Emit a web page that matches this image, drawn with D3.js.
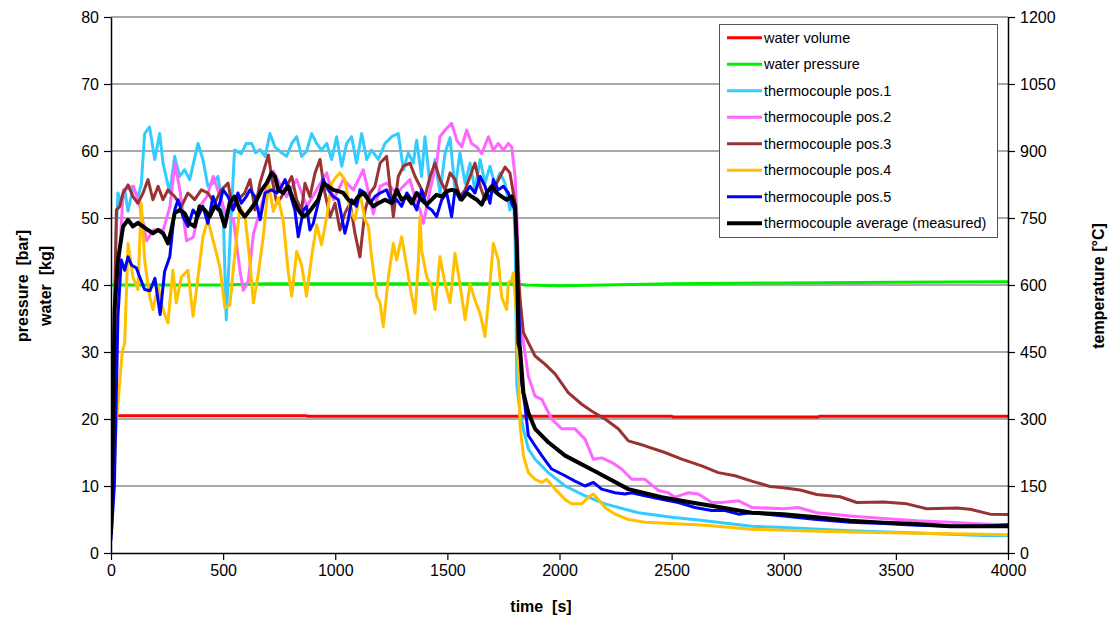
<!DOCTYPE html>
<html><head><meta charset="utf-8">
<script src="https://cdn.jsdelivr.net/npm/d3@7"></script>
<style>
body{margin:0;background:#fff;}
svg{display:block;font-family:"Liberation Sans",Arial,sans-serif;}
</style></head>
<body><svg id="c" width="1113" height="618"></svg>
<script>
// ---- data ----
const xTicks = [0,500,1000,1500,2000,2500,3000,3500,4000];
const leftTicks = [0,10,20,30,40,50,60,70,80];
const rightTicks = [0,150,300,450,600,750,900,1050,1200];
const legendLabels = ["water volume","water pressure","thermocouple pos.1","thermocouple pos.2","thermocouple pos.3","thermocouple pos.4","thermocouple pos.5","thermocouple average (measured)"];

// water volume [kg] and water pressure [bar] (left axis)
const waterVolume = [[15,20.5],[870,20.5],[875,20.4],[2500,20.4],[2510,20.3],[3150,20.3],[3160,20.4],[4000,20.4]];
const waterPressure = [[0,40.0],[500,40.0],[700,40.2],[1800,40.2],[1850,40.0],[2000,39.9],[2200,40.0],[2500,40.2],[3000,40.3],[3500,40.4],[4000,40.5]];

// temperatures [°C] (right axis)
const tc1 = [[0,45],[10,300],[20,675],[31,806],[46,783],[61,813],[76,765],[98,816],[120,798],[135,825],[150,939],[172,954],[195,881],[217,939],[232,873],[262,806],[284,888],[306,843],[328,858],[351,836],[388,917],[410,881],[432,821],[455,828],[477,843],[500,768],[514,522],[537,768],[551,902],[581,894],[603,917],[627,917],[645,896],[664,903],[687,888],[709,939],[731,909],[761,896],[783,888],[806,917],[828,932],[850,888],[872,899],[895,939],[917,917],[939,902],[962,917],[984,881],[1006,932],[1029,866],[1051,917],[1073,932],[1095,873],[1118,939],[1140,881],[1162,902],[1192,881],[1222,917],[1252,932],[1281,939],[1304,858],[1326,896],[1348,873],[1363,924],[1385,843],[1400,932],[1423,821],[1445,881],[1467,806],[1490,896],[1512,930],[1534,813],[1556,896],[1579,828],[1601,873],[1623,813],[1646,881],[1668,828],[1690,866],[1713,821],[1735,851],[1757,828],[1779,768],[1794,806],[1802,705],[1810,375],[1824,315],[1839,278],[1861,233],[1891,210],[1950,180],[2025,150],[2114,128],[2203,110],[2352,90],[2500,80],[2649,72],[2857,60],[3000,57],[3296,50],[3593,45],[3890,39],[4000,39]];
const tc2 = [[0,45],[15,300],[30,600],[55,813],[100,821],[129,776],[159,699],[189,723],[233,723],[263,776],[285,873],[308,810],[337,699],[367,707],[397,776],[427,798],[456,843],[486,798],[516,753],[546,746],[575,633],[590,588],[612,609],[635,714],[665,768],[694,821],[724,855],[754,825],[783,798],[828,836],[873,776],[917,813],[962,851],[992,791],[1036,836],[1081,813],[1125,858],[1170,759],[1200,821],[1229,828],[1274,806],[1333,836],[1363,783],[1378,768],[1393,738],[1423,813],[1452,873],[1467,932],[1490,947],[1519,962],[1542,924],[1564,909],[1586,947],[1608,917],[1631,909],[1653,894],[1683,932],[1705,902],[1727,917],[1750,902],[1772,917],[1787,909],[1802,843],[1809,768],[1820,600],[1831,510],[1839,471],[1861,396],[1891,351],[1921,344],[1965,300],[2010,278],[2069,278],[2114,255],[2151,210],[2188,213],[2233,203],[2277,188],[2322,165],[2381,165],[2441,140],[2485,135],[2515,125],[2575,135],[2619,132],[2679,113],[2723,113],[2798,117],[2857,102],[2999,99],[3066,102],[3147,90],[3296,83],[3445,77],[3593,72],[3742,69],[3890,65],[4000,63]];
const tc3 = [[0,45],[10,375],[24,768],[39,776],[54,806],[76,824],[98,798],[120,783],[143,806],[165,836],[187,791],[210,821],[232,791],[254,813],[284,798],[314,776],[343,806],[373,791],[403,813],[432,806],[462,783],[492,813],[522,828],[544,768],[566,791],[596,806],[620,836],[642,768],[664,828],[687,866],[702,891],[716,843],[739,783],[761,798],[783,821],[806,843],[828,791],[850,768],[865,828],[887,798],[910,851],[932,881],[954,806],[977,753],[999,783],[1021,723],[1043,761],[1066,783],[1088,716],[1110,663],[1133,768],[1155,806],[1177,821],[1200,873],[1229,888],[1244,821],[1259,753],[1281,843],[1304,866],[1333,873],[1356,843],[1378,821],[1400,798],[1423,843],[1445,873],[1467,836],[1490,813],[1512,851],[1534,836],[1556,798],[1579,813],[1601,843],[1623,873],[1646,821],[1668,791],[1690,798],[1713,821],[1735,843],[1757,864],[1779,851],[1802,783],[1817,618],[1824,569],[1839,494],[1861,471],[1891,441],[1935,423],[1980,401],[2039,359],[2099,333],[2143,318],[2203,300],[2262,278],[2307,251],[2381,240],[2470,225],[2545,210],[2634,195],[2708,180],[2783,173],[2857,161],[2939,149],[2999,146],[3073,141],[3147,131],[3251,126],[3326,113],[3445,114],[3549,110],[3638,99],[3772,101],[3831,98],[3920,87],[4000,86]];
const tc4 = [[0,36],[25,300],[50,450],[61,470],[76,693],[98,618],[120,590],[135,783],[150,656],[172,575],[187,545],[210,597],[232,545],[254,515],[276,633],[291,560],[314,618],[343,633],[366,530],[388,618],[410,708],[432,746],[456,699],[486,639],[508,549],[530,555],[546,639],[575,776],[598,753],[620,648],[635,560],[657,626],[679,708],[702,828],[724,765],[746,795],[768,743],[791,627],[806,575],[828,675],[850,645],[872,575],[895,665],[917,735],[939,690],[962,753],[984,828],[1006,843],[1021,851],[1043,836],[1066,768],[1088,746],[1110,806],[1133,746],[1148,731],[1162,663],[1185,575],[1200,560],[1214,507],[1237,618],[1259,693],[1274,656],[1296,708],[1319,641],[1341,575],[1356,537],[1371,656],[1378,753],[1385,678],[1408,618],[1430,596],[1445,545],[1467,663],[1490,603],[1512,560],[1534,671],[1556,603],[1579,522],[1601,603],[1623,566],[1646,536],[1668,485],[1690,603],[1705,693],[1727,656],[1742,573],[1764,545],[1772,605],[1787,611],[1794,627],[1802,575],[1809,531],[1816,419],[1824,285],[1839,218],[1861,180],[1891,165],[1921,158],[1943,165],[1980,143],[2025,120],[2054,110],[2099,110],[2129,125],[2151,132],[2173,120],[2203,102],[2248,87],[2307,75],[2381,69],[2500,66],[2649,62],[2857,53],[3073,50],[3296,47],[3593,44],[3890,42],[4000,41]];
const tc5 = [[0,30],[15,150],[31,530],[46,656],[61,633],[76,663],[91,645],[113,638],[128,618],[150,590],[174,587],[196,615],[219,534],[239,630],[262,663],[284,768],[299,791],[321,753],[343,731],[366,768],[388,753],[410,776],[432,738],[455,798],[477,768],[500,813],[522,798],[544,768],[566,806],[581,783],[603,798],[620,813],[642,798],[665,746],[687,806],[716,813],[739,806],[761,821],[776,836],[798,806],[820,768],[835,708],[858,768],[872,776],[887,723],[902,738],[924,783],[947,836],[969,813],[991,798],[1014,791],[1043,716],[1058,746],[1073,791],[1095,776],[1110,813],[1133,806],[1155,783],[1177,798],[1200,806],[1229,813],[1252,783],[1274,791],[1296,776],[1319,806],[1341,791],[1363,768],[1385,813],[1408,776],[1430,768],[1452,753],[1475,791],[1497,806],[1519,753],[1534,813],[1556,791],[1579,806],[1601,821],[1623,806],[1646,843],[1668,821],[1690,783],[1705,836],[1727,813],[1750,821],[1772,806],[1787,783],[1802,768],[1809,693],[1820,525],[1831,381],[1846,329],[1861,263],[1891,240],[1921,218],[1965,188],[2025,173],[2069,161],[2114,150],[2151,158],[2188,143],[2248,135],[2292,132],[2322,135],[2381,128],[2456,120],[2530,113],[2604,102],[2679,95],[2738,95],[2798,87],[2857,90],[2999,83],[3147,75],[3296,69],[3445,66],[3593,62],[3742,60],[3890,60],[4000,63]];
const tcAvg = [[0,45],[8,270],[16,545],[31,656],[54,731],[76,746],[98,731],[120,739],[143,731],[165,723],[187,716],[210,723],[232,716],[254,693],[269,723],[284,761],[306,768],[328,761],[351,738],[373,731],[395,776],[418,768],[440,753],[462,776],[485,768],[507,731],[529,783],[551,798],[574,768],[596,753],[620,768],[642,783],[672,813],[694,828],[716,851],[731,843],[746,813],[768,806],[791,821],[813,791],[835,768],[858,753],[880,761],[902,776],[924,791],[947,827],[969,821],[991,813],[1014,810],[1036,806],[1058,791],[1081,783],[1103,798],[1125,806],[1148,791],[1170,776],[1192,783],[1222,791],[1252,783],[1274,813],[1296,791],[1319,798],[1341,783],[1363,806],[1385,791],[1408,780],[1430,791],[1452,802],[1475,798],[1497,810],[1519,813],[1542,810],[1564,791],[1586,806],[1608,798],[1631,791],[1653,780],[1675,806],[1698,821],[1720,806],[1742,798],[1764,791],[1787,798],[1802,776],[1809,693],[1817,470],[1824,456],[1839,359],[1861,314],[1891,278],[1950,248],[2025,218],[2158,183],[2307,143],[2456,125],[2589,113],[2723,102],[2857,90],[2999,87],[3147,80],[3296,72],[3445,68],[3593,65],[3742,60],[4000,60]];

// ---- chart ----
const svg = d3.select("#c");
const L = 111, R = 1008, T = 17, B = 553;
const x = d3.scaleLinear().domain([0,4000]).range([L,R]);
const yL = d3.scaleLinear().domain([0,80]).range([B,T]);
const yT = d3.scaleLinear().domain([0,1200]).range([B,T]);
const font = '"Liberation Sans",Arial,sans-serif';

// gridlines
svg.append("g").selectAll("line").data(leftTicks.filter(d=>d>0)).join("line")
  .attr("x1",L).attr("x2",R).attr("y1",d=>yL(d)).attr("y2",d=>yL(d))
  .attr("stroke","#555").attr("stroke-width",1.2);

svg.append("clipPath").attr("id","clip").append("rect")
  .attr("x",L).attr("y",T-3).attr("width",R-L).attr("height",B-T+3);

const series = [
  {data: waterVolume, y: yL, color: "#ff0000", w: 3},
  {data: waterPressure, y: yL, color: "#00ee00", w: 3},
  {data: tc1, y: yT, color: "#33ccff", w: 3},
  {data: tc2, y: yT, color: "#ff66ff", w: 3},
  {data: tc3, y: yT, color: "#993333", w: 3},
  {data: tc4, y: yT, color: "#ffc000", w: 3},
  {data: tc5, y: yT, color: "#0000ff", w: 3},
  {data: tcAvg, y: yT, color: "#000000", w: 4}
];
const gl = svg.append("g").attr("clip-path","url(#clip)");
series.forEach(s => {
  const line = d3.line().x(d=>x(d[0])).y(d=>s.y(d[1]));
  gl.append("path").attr("d", line(s.data)).attr("fill","none")
    .attr("stroke", s.color).attr("stroke-width", s.w)
    .attr("stroke-linejoin","round").attr("stroke-linecap","round");
});

// axes
function styleAxis(g){
  g.selectAll("text").attr("font-size",16).attr("font-family",font).attr("fill","#000");
  g.selectAll("line").attr("stroke","#000").attr("stroke-width",1.2);
  g.select(".domain").attr("stroke","#000").attr("stroke-width",1.5);
}
svg.append("g").attr("transform",`translate(${L},0)`)
  .call(d3.axisLeft(yL).tickValues(leftTicks).tickSize(7).tickPadding(5).tickSizeOuter(0).tickFormat(d3.format("d")))
  .call(styleAxis);
svg.append("g").attr("transform",`translate(${R},0)`)
  .call(d3.axisRight(yT).tickValues(rightTicks).tickSize(7).tickPadding(5).tickSizeOuter(0).tickFormat(d3.format("d")))
  .call(styleAxis);
svg.append("g").attr("transform",`translate(0,${B})`)
  .call(d3.axisBottom(x).tickValues(xTicks).tickSize(7).tickPadding(5).tickSizeOuter(0).tickFormat(d3.format("d")))
  .call(styleAxis);

// axis titles
function title(tr, txt){
  svg.append("text").attr("transform",tr).attr("text-anchor","middle")
    .attr("font-family",font).attr("font-weight","bold").attr("font-size",16)
    .style("white-space","pre").text(txt);
}
title("translate(28,286) rotate(-90)", "pressure  [bar]");
title("translate(51,286) rotate(-90)", "water  [kg]");
title("translate(1104,286) rotate(-90)", "temperature [°C]");
title("translate(541,612)", "time  [s]");

// legend
const lg = svg.append("g");
lg.append("rect").attr("x",719.5).attr("y",24.5).attr("width",278).attr("height",213)
  .attr("fill","#fff").attr("stroke","#555").attr("stroke-width",1);
legendLabels.forEach((lab,i) => {
  const yy = 37.7 + i*26.5;
  lg.append("line").attr("x1",727).attr("x2",762).attr("y1",yy).attr("y2",yy)
    .attr("stroke",series[i].color).attr("stroke-width", i===7?4:3);
  lg.append("text").attr("x",764).attr("y",yy+5).attr("font-family",font).attr("font-size",14.5)
    .attr("fill","#000").text(lab);
});
</script></body></html>
